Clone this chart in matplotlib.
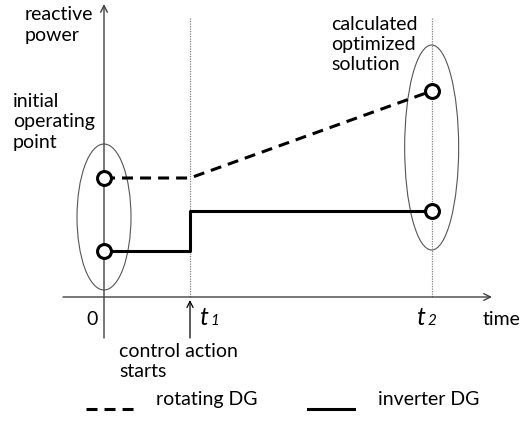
import matplotlib
matplotlib.use("Agg")
import matplotlib.pyplot as plt
from matplotlib.patches import Ellipse

# ---- data (schematic) ----
t1 = 1.0
t2 = 3.81
rotating_t = [0.0, t1, t2]
rotating_q = [5.95, 5.95, 10.3]
inverter_t = [0.0, t1, t1, t2]
inverter_q = [2.3, 2.3, 4.3, 4.3]
points_t = [0.0, 0.0, t2, t2]
points_q = [5.95, 2.3, 10.3, 4.3]

FONT = "Lato"
FS = 14

fig = plt.figure(figsize=(5.3, 4.23), dpi=100)
ax = fig.add_axes([0, 0, 1, 1])
# pixel -> data mapping helpers (for annotation placement)
X0, SX = 104.0, 86.0
Y0, SY = 297.0, 20.0
def X(px):
    return (px - X0) / SX
def Y(py):
    return (Y0 - py) / SY

ax.set_xlim(X(0), X(530))
ax.set_ylim(Y(423), Y(0))
ax.axis("off")

axis_col = "#404040"
# axes with arrows
ax.annotate("", xy=(X(104), Y(4)), xytext=(X(104), Y(338)),
            arrowprops=dict(arrowstyle="->", color=axis_col, lw=1.0,
                            mutation_scale=12, shrinkA=0, shrinkB=0))
ax.annotate("", xy=(X(492), Y(297)), xytext=(X(63), Y(297)),
            arrowprops=dict(arrowstyle="->", color=axis_col, lw=1.0,
                            mutation_scale=12, shrinkA=0, shrinkB=0))
# dotted verticals
for tv in (t1, t2):
    ax.plot([tv, tv], [Y(18), 0], color="#808080", lw=0.9, ls=(0, (1, 1)))
# arrow at t1
ax.annotate("", xy=(t1, Y(300)), xytext=(t1, Y(338)),
            arrowprops=dict(arrowstyle="->", color="black", lw=0.9,
                            mutation_scale=11, shrinkA=0, shrinkB=0))

# ellipses
ax.add_patch(Ellipse((0.0, Y(217)), 54 / SX, 146 / SY, fill=False,
                     ec="#555555", lw=0.8))
ax.add_patch(Ellipse((t2, Y(147.5)), 54 / SX, 205 / SY, fill=False,
                     ec="#555555", lw=0.8))

# lines
ax.plot(rotating_t, rotating_q, color="black", lw=2.2, dashes=(3.6, 2.3), zorder=3)
ax.plot(inverter_t, inverter_q, color="black", lw=2.2, zorder=3)
ax.plot(points_t, points_q, ls="none", marker="o", ms=10, mfc="white",
        mec="black", mew=2.2, zorder=4)

def txt(px, py, s, **kw):
    kw.setdefault("fontsize", FS)
    kw.setdefault("family", FONT)
    kw.setdefault("va", "baseline")
    kw.setdefault("ha", "left")
    ax.text(X(px), Y(py), s, color="black", **kw)

def lines(px, py0, dy, items, **kw):
    for i, s in enumerate(items):
        txt(px, py0 + i * dy, s, **kw)

lines(25, 20, 21, ["reactive", "power"])
lines(13, 107, 20.5, ["initial", "operating", "point"])
lines(331, 30, 20, ["calculated", "optimized", "solution"])
txt(86, 325, "0")
txt(483, 325, "time")
lines(119, 357, 20, ["control action", "starts"])
# t labels
txt(199, 325, "t", fontsize=18, style="italic")
txt(210, 325, "1", fontsize=11, style="italic")
txt(416, 325, "t", fontsize=18, style="italic")
txt(428, 325, "2", fontsize=11, style="italic")

# legend (manual)
ax.plot([X(86), X(133)], [Y(409), Y(409)], color="black", lw=2.2, dashes=(3.6, 2.3))
txt(156, 405, "rotating DG")
ax.plot([X(308), X(354)], [Y(409), Y(409)], color="black", lw=2.2)
txt(378, 405, "inverter DG")

fig.savefig("out.png", dpi=100)
